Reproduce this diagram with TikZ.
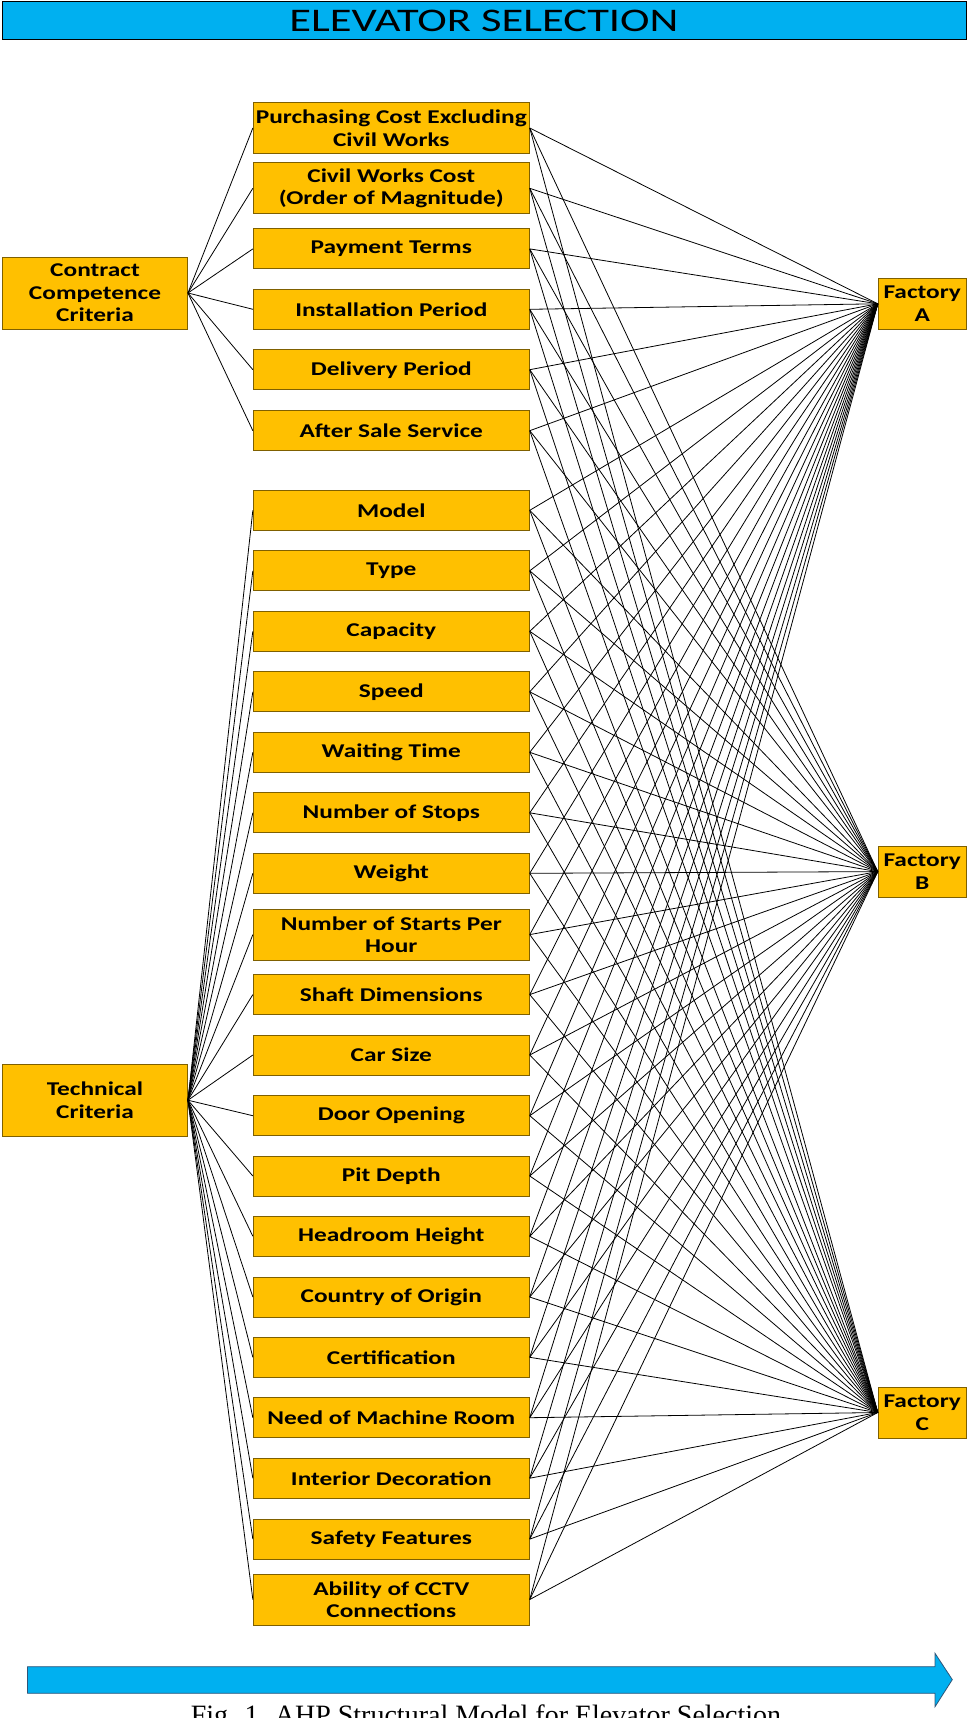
\documentclass[tikz,border=0pt]{standalone}
\usepackage{fontspec}
\newfontfamily\boxfont[FakeStretch=1.3]{Carlito}
\newfontfamily\titlefont[FakeStretch=1.35]{Carlito}
\newfontfamily\capfont{Liberation Serif}
\definecolor{boxfill}{RGB}{255,192,0}
\definecolor{boxline}{RGB}{127,96,0}
\definecolor{skyblue}{RGB}{0,176,240}
\definecolor{arrowline}{RGB}{47,85,120}
\tikzset{
  crit/.style={draw=boxline, fill=boxfill, line width=0.9pt, inner sep=0pt, align=center,
    font=\boxfont\bfseries\fontsize{19.5}{22.5}\selectfont},
  mid/.style={crit, minimum width=276pt, minimum height=40pt},
  midtwo/.style={crit, minimum width=276pt, minimum height=51pt},
  parent/.style={crit, minimum width=185pt, minimum height=72pt},
  fact/.style={crit, minimum width=88pt, minimum height=51pt},
  link/.style={draw=black, line width=0.8pt},
}
\begin{document}
\begin{tikzpicture}[x=1pt, y=-1pt]
\useasboundingbox (0,0) rectangle (968,1718);
% title
\node[draw=black, fill=skyblue, line width=1pt, minimum width=964pt, minimum height=37.5pt, inner sep=0pt,
  font=\titlefont\fontsize{33}{36}\selectfont] (title) at (484,20.5) {ELEVATOR SELECTION};
% parents
\node[parent] (cc) at (95,293) {Contract\\Competence\\Criteria};
\node[parent] (tc) at (95,1100.2) {Technical\\Criteria};
% middle column
\node[midtwo] (m1) at (391.3,128) {Purchasing Cost Excluding\\Civil Works};
\node[midtwo] (m2) at (391.3,188.3) {Civil Works Cost\\(Order of Magnitude)};
\node[mid] (m3) at (391.3,248.9) {Payment Terms};
\node[mid] (m4) at (391.3,309.3) {Installation Period};
\node[mid] (m5) at (391.3,369.7) {Delivery Period};
\node[mid] (m6) at (391.3,430.7) {After Sale Service};
\node[mid] (m7) at (391.3,510.3) {Model};
\node[mid] (m8) at (391.3,570.8) {Type};
\node[mid] (m9) at (391.3,631.3) {Capacity};
\node[mid] (m10) at (391.3,691.8) {Speed};
\node[mid] (m11) at (391.3,752.3) {Waiting Time};
\node[mid] (m12) at (391.3,812.8) {Number of Stops};
\node[mid] (m13) at (391.3,873.3) {Weight};
\node[midtwo] (m14) at (391.3,934.6) {Number of Starts Per\\Hour};
\node[mid] (m15) at (391.3,994.6) {Shaft Dimensions};
\node[mid] (m16) at (391.3,1055) {Car Size};
\node[mid] (m17) at (391.3,1115.7) {Door Opening};
\node[mid] (m18) at (391.3,1176) {Pit Depth};
\node[mid] (m19) at (391.3,1236.3) {Headroom Height};
\node[mid] (m20) at (391.3,1297) {Country of Origin};
\node[mid] (m21) at (391.3,1357.3) {Certification};
\node[mid] (m22) at (391.3,1417.7) {Need of Machine Room};
\node[mid] (m23) at (391.3,1478.2) {Interior Decoration};
\node[mid] (m24) at (391.3,1539.1) {Safety Features};
\node[midtwo] (m25) at (391.3,1599.5) {Ability of CCTV\\Connections};
% factories
\node[fact] (fa) at (922.2,303.8) {Factory\\A};
\node[fact] (fb) at (922.2,871.6) {Factory\\B};
\node[fact] (fc) at (922.2,1412.5) {Factory\\C};
% connectors
\foreach \i in {1,...,6} { \draw[link] (cc.east) -- (m\i.west); }
\foreach \i in {7,...,25} { \draw[link] (tc.east) -- (m\i.west); }
\foreach \i in {1,...,25} {
  \draw[link] (m\i.east) -- (fa.west);
  \draw[link] (m\i.east) -- (fb.west);
  \draw[link] (m\i.east) -- (fc.west);
}
% bottom arrow
\draw[draw=arrowline, fill=skyblue, line width=0.8pt]
  (27.5,1666.7) -- (935,1666.7) -- (935,1653.3) -- (952.3,1679.6) -- (935,1706.7)
  -- (935,1693.3) -- (27.5,1693.3) -- cycle;
% caption (cut off at bottom edge, as in the reference)
\node[anchor=base, inner sep=0pt, font=\capfont\fontsize{28}{32}\selectfont] (cap) at (486,1724.5)
  {Fig. 1. AHP Structural Model for Elevator Selection};
\end{tikzpicture}
\end{document}
